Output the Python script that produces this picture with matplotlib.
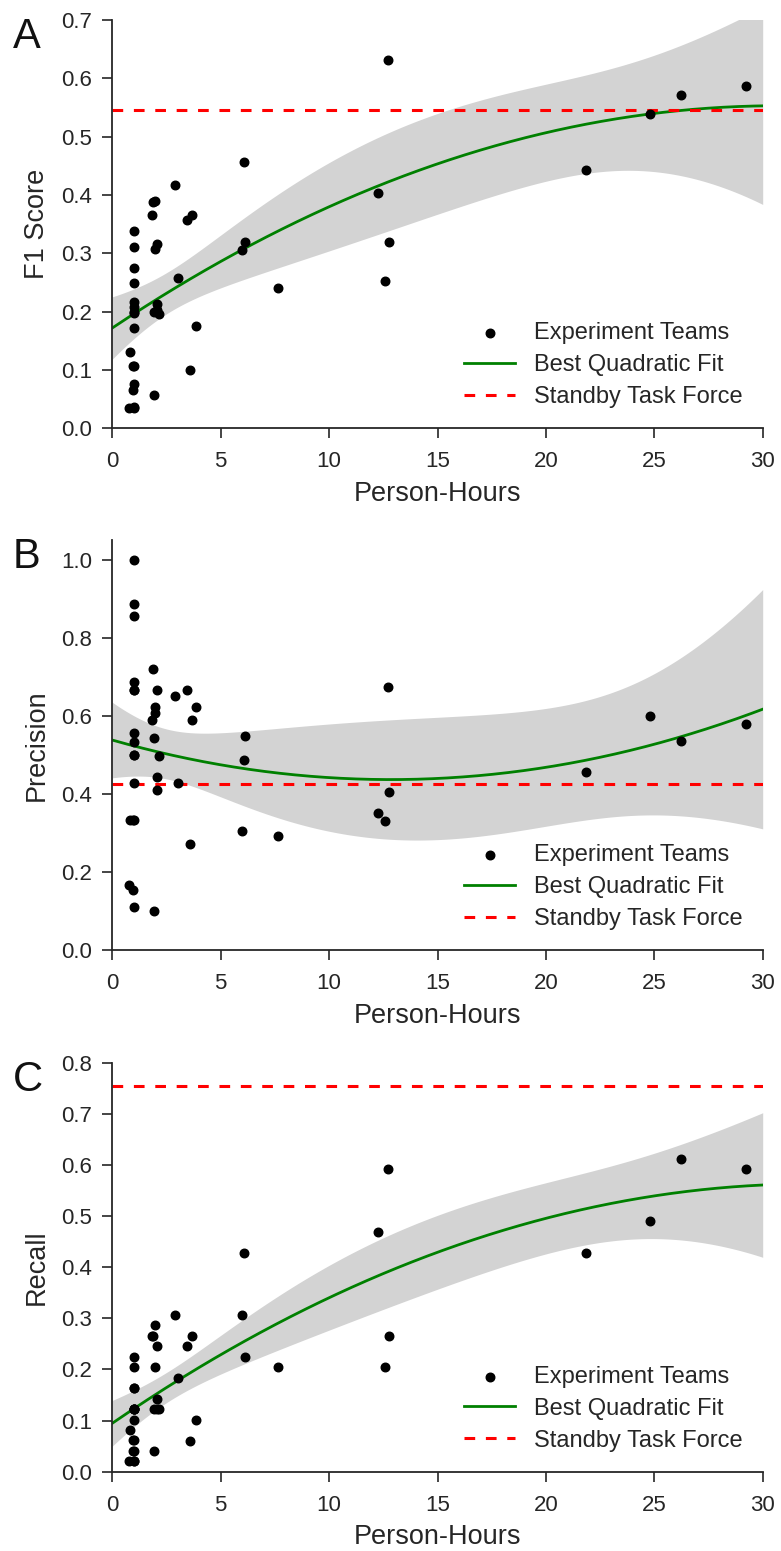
import matplotlib
matplotlib.use("Agg")
import matplotlib.pyplot as plt
import numpy as np

plt.rcParams['font.family'] = ['Liberation Sans', 'DejaVu Sans']

# person-hours per experiment team
hours = [0.78, 1.00, 1.02, 0.94, 0.98, 0.96, 1.00, 0.83, 1.00, 0.98, 1.00, 0.99, 1.00, 1.00, 1.00, 0.99, 1.00,
         1.92, 1.83, 1.89, 1.99, 1.98, 2.08, 2.08, 2.17, 1.94, 2.05,
         2.88, 3.02, 3.57, 3.86, 3.46, 3.66,
         6.07, 5.98, 6.10, 7.64,
         12.27, 12.56, 12.70, 12.76,
         21.86, 24.82, 26.23, 29.22]

f1 = [0.035, 0.035, 0.037, 0.065, 0.076, 0.107, 0.107, 0.130, 0.172, 0.197, 0.200, 0.208, 0.217, 0.249, 0.275, 0.311, 0.338,
      0.057, 0.366, 0.388, 0.389, 0.308, 0.316, 0.213, 0.196, 0.200, 0.202,
      0.417, 0.257, 0.100, 0.175, 0.357, 0.366,
      0.457, 0.306, 0.319, 0.241,
      0.403, 0.253, 0.631, 0.320,
      0.442, 0.539, 0.571, 0.586]

precision = [0.167, 0.111, 0.667, 0.154, 0.556, 0.333, 0.333, 0.333, 0.428, 0.500, 0.500, 0.667, 0.856, 0.533, 0.889, 1.000, 0.688,
             0.100, 0.590, 0.722, 0.625, 0.609, 0.444, 0.411, 0.498, 0.545, 0.667,
             0.653, 0.428, 0.273, 0.625, 0.667, 0.590,
             0.489, 0.306, 0.549, 0.294,
             0.353, 0.332, 0.674, 0.406,
             0.456, 0.600, 0.536, 0.580]

recall = [0.020, 0.020, 0.020, 0.0405, 0.0405, 0.062, 0.062, 0.0815, 0.102, 0.123, 0.123, 0.123, 0.123, 0.163, 0.163, 0.204, 0.224,
          0.0405, 0.265, 0.265, 0.286, 0.204, 0.245, 0.143, 0.123, 0.123, 0.123,
          0.306, 0.184, 0.061, 0.102, 0.245, 0.265,
          0.428, 0.306, 0.224, 0.204,
          0.469, 0.204, 0.592, 0.265,
          0.428, 0.490, 0.612, 0.592]

# Standby Task Force reference values
stf = {'F1 Score': 0.545, 'Precision': 0.4256, 'Recall': 0.755}

panels = [
    ('A', 'F1 Score', f1, 0.7, np.arange(0, 0.71, 0.1), [1551 - 20, 1551 - 428.3]),
    ('B', 'Precision', precision, 1.052, np.arange(0, 1.01, 0.2), [1551 - 540, 1551 - 950.3]),
    ('C', 'Recall', recall, 0.8, np.arange(0, 0.81, 0.1), [1551 - 1062.7, 1551 - 1471.7]),
]


def quad_fit(x, y, grid, t=2.018):
    # quadratic least squares fit with 95% confidence band
    x = np.asarray(x)
    y = np.asarray(y)
    X = np.vstack([np.ones_like(x), x, x ** 2]).T
    beta, _, _, _ = np.linalg.lstsq(X, y, rcond=None)
    resid = y - X @ beta
    s2 = resid @ resid / (len(y) - 3)
    cov = s2 * np.linalg.inv(X.T @ X)
    G = np.vstack([np.ones_like(grid), grid, grid ** 2]).T
    yhat = G @ beta
    se = np.sqrt(np.einsum('ij,jk,ik->i', G, cov, G))
    return yhat, yhat - t * se, yhat + t * se


W, H = 781, 1551
fig = plt.figure(figsize=(W / 100, H / 100), dpi=100)
text_col = '#262626'
grid = np.linspace(0, 30, 300)

for letter, name, vals, ymax, yticks, (top, bottom) in panels:
    ax = fig.add_axes([112.3 / W, bottom / H, (762.7 - 112.3) / W, (top - bottom) / H])

    yhat, lo, hi = quad_fit(hours, vals, grid)
    ax.fill_between(grid, lo, hi, color='#d3d3d3', lw=0, zorder=1)
    fit_line, = ax.plot(grid, yhat, color='green', lw=2.0, zorder=2)
    hline = ax.axhline(stf[name], color='red', lw=2.2, ls=(0, (3.5, 3.5)), zorder=2)
    sc = ax.scatter(hours, vals, color='k', s=38, zorder=3)

    ax.set_xlim(0, 30)
    ax.set_ylim(0, ymax)
    ax.set_yticks(yticks)
    ax.set_yticklabels(['%.1f' % t for t in yticks])
    ax.set_xticks([0, 5, 10, 15, 20, 25, 30])
    ax.tick_params(axis='both', direction='out', length=7.5, width=1.2, colors=text_col, labelsize=16)
    ax.tick_params(axis='y', pad=7)
    ax.tick_params(axis='x', pad=9)
    for s in ['top', 'right']:
        ax.spines[s].set_visible(False)
    for s in ['left', 'bottom']:
        ax.spines[s].set_color(text_col)
        ax.spines[s].set_linewidth(1.3)

    ax.set_xlabel('Person-Hours', fontsize=19.5, color=text_col, labelpad=6)
    ax.set_ylabel(name, fontsize=19.5, color=text_col, labelpad=8)

    leg = ax.legend([sc, fit_line, hline],
                    ['Experiment Teams', 'Best Quadratic Fit', 'Standby Task Force'],
                    loc='lower right', frameon=False, fontsize=17, scatterpoints=1,
                    handlelength=2.15, handletextpad=0.8, labelspacing=0.42,
                    borderaxespad=0.45)
    for t in leg.get_texts():
        t.set_color(text_col)

    fig.text(13 / W, (top + 3) / H, letter, fontsize=30, va='top', ha='left', color='#111111')

fig.savefig('out.png', dpi=100)
